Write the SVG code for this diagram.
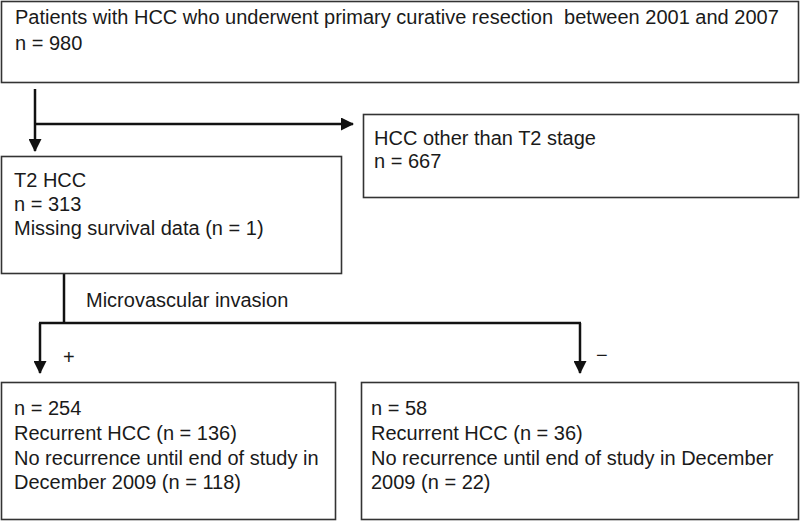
<svg xmlns="http://www.w3.org/2000/svg" width="800" height="521" viewBox="0 0 800 521">
<style>
.box{fill:#fff;stroke:#333;stroke-width:1.6}
.t{font-family:"Liberation Sans",Arial,sans-serif;font-size:20px;fill:#1a1a1a}
.c{fill:none;stroke:#111;stroke-width:2.5}
</style>
<defs>
<marker id="ah" viewBox="0 0 13 13" refX="12" refY="6.5" markerWidth="13" markerHeight="13" markerUnits="userSpaceOnUse" orient="auto">
<path d="M0,0 L13,6.5 L0,13 Z" fill="#111"/>
</marker>
</defs>
<rect width="800" height="521" fill="#fff"/>
<g id="connectors">
<line class="c" x1="35" y1="89" x2="35" y2="151" marker-end="url(#ah)"/>
<line class="c" x1="35" y1="124" x2="353" y2="124" marker-end="url(#ah)"/>
<line class="c" x1="64" y1="274" x2="64" y2="323"/>
<line class="c" x1="39" y1="323" x2="581" y2="323"/>
<line class="c" x1="40" y1="323" x2="40" y2="373" marker-end="url(#ah)"/>
<line class="c" x1="580" y1="323" x2="580" y2="373" marker-end="url(#ah)"/>
<text class="t" x="86" y="307">Microvascular invasion</text>
<text class="t" x="63" y="364">+</text>
<text class="t" x="596" y="362">−</text>
</g>
<g id="top">
<rect class="box" x="1.5" y="1.5" width="797" height="81"/>
<text class="t" x="15" y="24">Patients with HCC who underwent primary curative resection &#160;between 2001 and 2007</text>
<text class="t" x="15" y="50">n = 980</text>
</g>
<g id="other">
<rect class="box" x="363.5" y="114.5" width="435" height="83"/>
<text class="t" x="374" y="145">HCC other than T2 stage</text>
<text class="t" x="374" y="168">n = 667</text>
</g>
<g id="t2">
<rect class="box" x="1.5" y="156.5" width="340" height="117"/>
<text class="t" x="14" y="187">T2 HCC</text>
<text class="t" x="14" y="211">n = 313</text>
<text class="t" x="14" y="235">Missing survival data (n = 1)</text>
</g>
<g id="mvi-pos">
<rect class="box" x="1.5" y="382.5" width="334" height="137"/>
<text class="t" x="14" y="415">n = 254</text>
<text class="t" x="14" y="440">Recurrent HCC (n = 136)</text>
<text class="t" x="14" y="465">No recurrence until end of study in</text>
<text class="t" x="14" y="489">December 2009 (n = 118)</text>
</g>
<g id="mvi-neg">
<rect class="box" x="361.5" y="382.5" width="437" height="137"/>
<text class="t" x="371" y="415">n = 58</text>
<text class="t" x="371" y="440">Recurrent HCC (n = 36)</text>
<text class="t" x="371" y="465">No recurrence until end of study in December</text>
<text class="t" x="371" y="489">2009 (n = 22)</text>
</g>
</svg>
